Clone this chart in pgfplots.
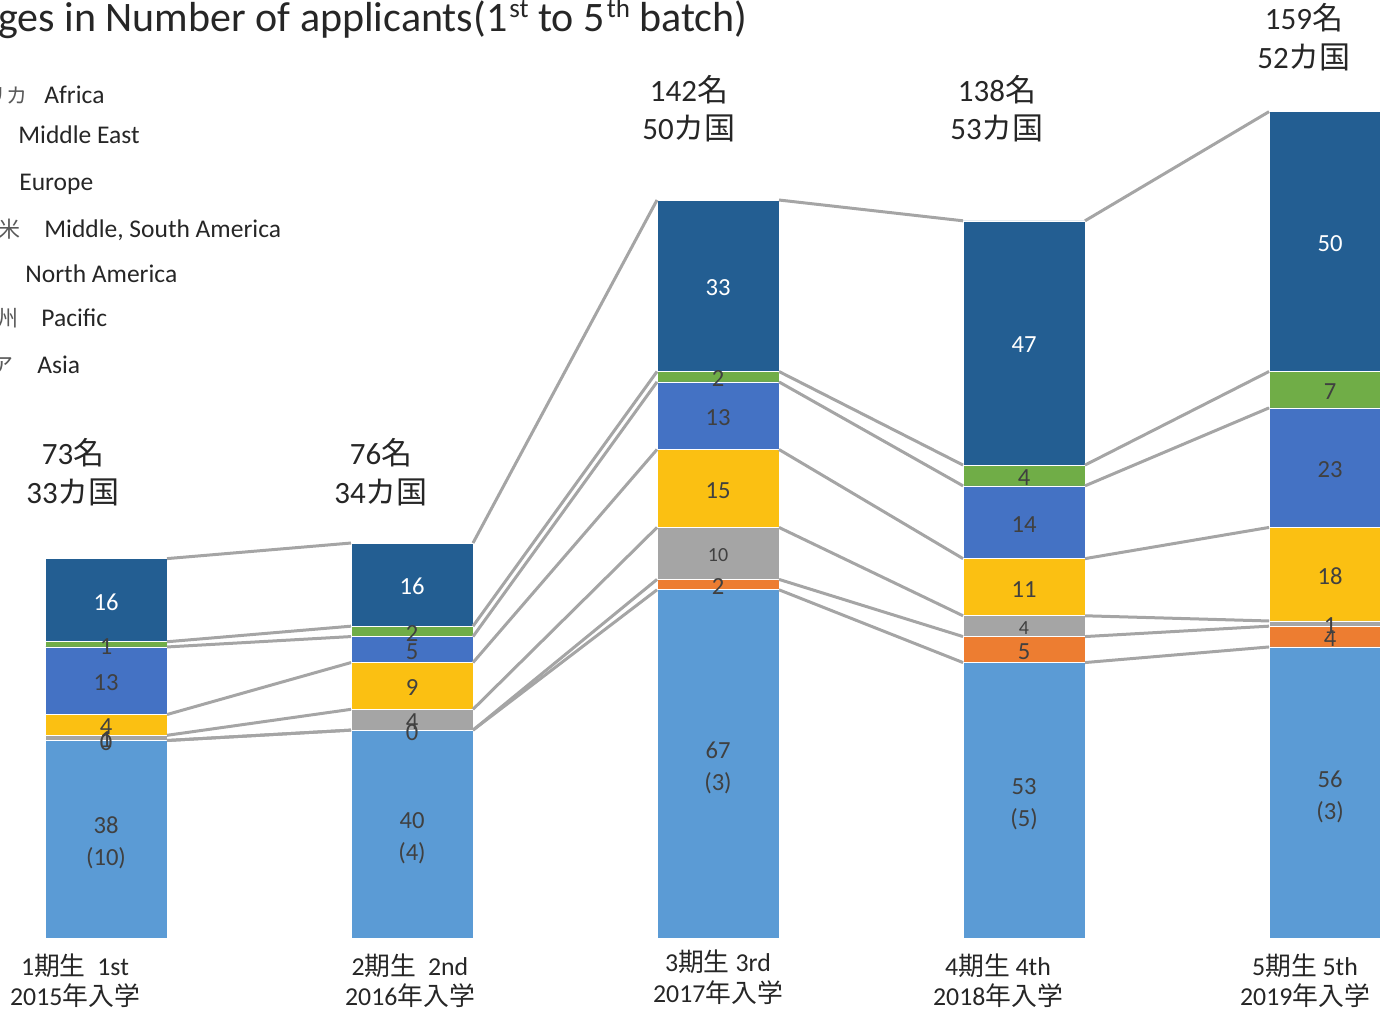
\documentclass[border=0pt]{standalone}
\usepackage{pgfplots}
\pgfplotsset{compat=1.18}
\usepackage{fontspec}
\setmainfont{Carlito}
\newfontfamily\cjk{Noto Sans CJK JP}
\definecolor{cAsia}{HTML}{5B9BD5}
\definecolor{cPac}{HTML}{ED7D31}
\definecolor{cNA}{HTML}{A5A5A5}
\definecolor{cMSA}{HTML}{FBC012}
\definecolor{cEur}{HTML}{4472C4}
\definecolor{cME}{HTML}{70AD47}
\definecolor{cAf}{HTML}{235E92}
\definecolor{txt}{HTML}{262626}
\definecolor{lbl}{HTML}{404040}
\definecolor{jpg}{HTML}{595959}
\definecolor{sline}{HTML}{A5A5A5}
\newcommand{\titlesup}[1]{\raisebox{7pt}{\fontsize{13.5pt}{15pt}\selectfont\kern1pt #1}}
\pgfplotsset{
  base/.style={at={(0,0)}, anchor=south west, scale only axis,
    x=153pt, y=2.5985pt, xmin=-0.34641, xmax=4.16340, ymin=-14.239, ymax=180.489,
    hide axis, clip=true, unbounded coords=jump},
  seg/.style={fill=#1, draw=white, line width=0.3pt},
  sl/.style={draw=sline, line width=1.5pt, mark=none},
  lab/.style n args={3}{draw=none, mark=none, nodes near coords={\pgfplotspointmeta}, point meta=explicit symbolic,
     every node near coord/.style={anchor=center, inner sep=0pt, yshift=#3, text=#1, align=center, font=\fontsize{#2}{16pt}\selectfont}},
}
\begin{document}
\begin{tikzpicture}
\clip (0,0) rectangle (690pt,506pt);
\begin{axis}[base, ybar stacked, bar width=61pt]
\addplot[seg=cAsia] coordinates {(0,38) (1,40) (2,67) (3,53) (4,56)};
\addplot[seg=cPac] coordinates {(0,0) (1,0) (2,2) (3,5) (4,4)};
\addplot[seg=cNA] coordinates {(0,1) (1,4) (2,10) (3,4) (4,1)};
\addplot[seg=cMSA] coordinates {(0,4) (1,9) (2,15) (3,11) (4,18)};
\addplot[seg=cEur] coordinates {(0,13) (1,5) (2,13) (3,14) (4,23)};
\addplot[seg=cME] coordinates {(0,1) (1,2) (2,2) (3,4) (4,7)};
\addplot[seg=cAf] coordinates {(0,16) (1,16) (2,33) (3,47) (4,50)};
\end{axis}
\begin{axis}[base]
% series lines (cumulative tops)
\addplot[sl] coordinates {(0.1993,38) (0.8007,40) (1.5,nan) (1.1993,40) (1.8007,67) (2.5,nan) (2.1993,67) (2.8007,53) (3.5,nan) (3.1993,53) (3.8007,56)};
\addplot[sl] coordinates {(0.1993,38) (0.8007,40) (1.5,nan) (1.1993,40) (1.8007,69) (2.5,nan) (2.1993,69) (2.8007,58) (3.5,nan) (3.1993,58) (3.8007,60)};
\addplot[sl] coordinates {(0.1993,39) (0.8007,44) (1.5,nan) (1.1993,44) (1.8007,79) (2.5,nan) (2.1993,79) (2.8007,62) (3.5,nan) (3.1993,62) (3.8007,61)};
\addplot[sl] coordinates {(0.1993,43) (0.8007,53) (1.5,nan) (1.1993,53) (1.8007,94) (2.5,nan) (2.1993,94) (2.8007,73) (3.5,nan) (3.1993,73) (3.8007,79)};
\addplot[sl] coordinates {(0.1993,56) (0.8007,58) (1.5,nan) (1.1993,58) (1.8007,107) (2.5,nan) (2.1993,107) (2.8007,87) (3.5,nan) (3.1993,87) (3.8007,102)};
\addplot[sl] coordinates {(0.1993,57) (0.8007,60) (1.5,nan) (1.1993,60) (1.8007,109) (2.5,nan) (2.1993,109) (2.8007,91) (3.5,nan) (3.1993,91) (3.8007,109)};
\addplot[sl] coordinates {(0.1993,73) (0.8007,76) (1.5,nan) (1.1993,76) (1.8007,142) (2.5,nan) (2.1993,142) (2.8007,138) (3.5,nan) (3.1993,138) (3.8007,159)};
% data labels
\addplot[lab={lbl}{12.3pt}{-2pt}] coordinates {
 (0,19) [38\\(10)] (1,20) [40\\(4)] (2,33.5) [67\\(3)] (3,26.5) [53\\(5)] (4,28) [56\\(3)]
};
\addplot[lab={lbl}{12.3pt}{-1pt}] coordinates {
 (0,38) [0] (1,40) [0] (2,68) [2] (3,55.5) [5] (4,58) [4]
 (0,38.5) [1] (1,42) [4] (4,60.5) [1]
 (0,41) [4] (1,48.5) [9] (2,86.5) [15] (3,67.5) [11] (4,70) [18]
 (0,49.5) [13] (1,55.5) [5] (2,100.5) [13] (3,80) [14] (4,90.5) [23]
 (0,56.5) [1] (1,59) [2] (2,108) [2] (3,89) [4] (4,105.5) [7]
};
\addplot[lab={lbl}{10pt}{-1pt}] coordinates {(2,74) [10] (3,60) [4]};
\addplot[lab={white}{12.3pt}{-1pt}] coordinates {(0,65) [16] (1,68) [16] (2,125.5) [33] (3,114.5) [47] (4,134) [50]};
\end{axis}
\begin{scope}[x=0.5pt, y=-0.5pt, yshift=506pt]
\node[anchor=base west, inner sep=0pt, text=txt, font=\fontsize{21pt}{25pt}\selectfont] at (-2,32)
  {ges in Number of applicants(1\titlesup{st} to 5\titlesup{th} batch)};
% legend text
\begin{scope}[every node/.style={inner sep=0pt, font=\fontsize{12.75pt}{15pt}\selectfont}]
\node[anchor=base east, text=jpg, font=\fontsize{10.5pt}{12pt}\selectfont] at (28,104) {\cjk リカ};
\node[anchor=base west, text=txt] at (44,104) {Africa};
\node[anchor=base west, text=txt] at (18,144) {Middle East};
\node[anchor=base west, text=txt] at (19,191) {Europe};
\node[anchor=base east, text=jpg, font=\fontsize{11pt}{12pt}\selectfont] at (21,238) {\cjk 米};
\node[anchor=base west, text=txt] at (44,238) {Middle, South America};
\node[anchor=base west, text=txt] at (25,283) {North America};
\node[anchor=base east, text=jpg, font=\fontsize{11pt}{12pt}\selectfont] at (19,327) {\cjk 州};
\node[anchor=base west, text=txt] at (41,327) {Pacific};
\node[anchor=base east, text=jpg, font=\fontsize{11pt}{12pt}\selectfont] at (14,374) {\cjk ア};
\node[anchor=base west, text=txt] at (37,374) {Asia};
\end{scope}
% totals
\begin{scope}[every node/.style={inner sep=0pt, anchor=base, text=txt, font=\fontsize{15.5pt}{19pt}\selectfont}]
\node at (73,465) {73{\cjk 名}};   \node at (73,504) {33{\cjk カ国}};
\node at (381,465) {76{\cjk 名}};  \node at (381,504) {34{\cjk カ国}};
\node at (689,102) {142{\cjk 名}}; \node at (689,140) {50{\cjk カ国}};
\node at (997,102) {138{\cjk 名}}; \node at (997,140) {53{\cjk カ国}};
\node at (1304,30) {159{\cjk 名}}; \node at (1304,69) {52{\cjk カ国}};
\end{scope}
% category labels
\begin{scope}[every node/.style={inner sep=0pt, anchor=base, text=txt, font=\fontsize{12.9pt}{15pt}\selectfont}]
\node at (75,975) {1{\cjk 期生}\ \ 1st};     \node at (75,1005) {2015{\cjk 年入学}};
\node at (410,975) {2{\cjk 期生}\ \ 2nd};    \node at (410,1005) {2016{\cjk 年入学}};
\node at (718,971) {3{\cjk 期生}\ 3rd};      \node at (718,1002) {2017{\cjk 年入学}};
\node at (998,975) {4{\cjk 期生}\ 4th};      \node at (998,1005) {2018{\cjk 年入学}};
\node at (1305,975) {5{\cjk 期生}\ 5th};     \node at (1305,1005) {2019{\cjk 年入学}};
\end{scope}
\end{scope}
\end{tikzpicture}
\end{document}
